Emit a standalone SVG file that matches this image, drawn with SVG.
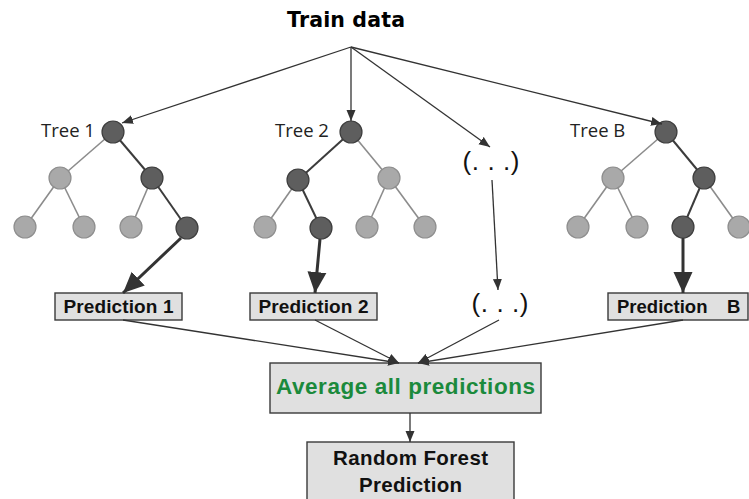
<svg xmlns="http://www.w3.org/2000/svg" width="749" height="499" viewBox="0 0 749 499">
<defs>
<marker id="a" markerUnits="userSpaceOnUse" markerWidth="12" markerHeight="10" refX="11" refY="5" orient="auto"><path d="M0,0.5 L11,5 L0,9.5 z" fill="#333"/></marker>
<marker id="A" markerUnits="userSpaceOnUse" markerWidth="22" markerHeight="20" refX="21" refY="10" orient="auto"><path d="M0,0.5 L21,10 L0,19.5 z" fill="#333"/></marker>
</defs>
<style>
.thin{stroke:#333;stroke-width:1.3;fill:none}
.thick{stroke:#333;stroke-width:3;fill:none}
.de{stroke:#3c3c3c;stroke-width:2}
.le{stroke:#8c8c8c;stroke-width:1.6}
.dn{fill:#5e5e5e;stroke:#3e3e3e;stroke-width:1.2}
.ln{fill:#a9a9a9;stroke:#8e8e8e;stroke-width:1.2}
.box{fill:#e0e0e0;stroke:#3a3a3a;stroke-width:1.4}
.lbl{font-family:"Open Sans","Liberation Sans",sans-serif;font-size:18.5px;fill:#222}
.b{font-family:"Liberation Sans",Arial,sans-serif;font-weight:bold;fill:#111}
.dots{font-family:"Liberation Sans",Arial,sans-serif;font-size:26px;fill:#111}
</style>
<g id="train-data"><text x="346" y="27" font-family="'DejaVu Sans','Liberation Sans',sans-serif" font-weight="bold" font-size="20.5" fill="#000" text-anchor="middle" textLength="118">Train data</text></g>

<g id="tree1">
<text x="41" y="137" class="lbl">Tree 1</text>
<line x1="113" y1="132" x2="60" y2="178" class="le"/>
<line x1="113" y1="132" x2="152" y2="178" class="de"/>
<line x1="60" y1="178" x2="25" y2="227" class="le"/>
<line x1="60" y1="178" x2="84" y2="227" class="le"/>
<line x1="152" y1="178" x2="131" y2="227" class="le"/>
<line x1="152" y1="178" x2="187" y2="228" class="de"/>
<circle cx="113" cy="132" r="11" class="dn"/>
<circle cx="60" cy="178" r="11" class="ln"/>
<circle cx="152" cy="178" r="11" class="dn"/>
<circle cx="25" cy="227" r="11" class="ln"/>
<circle cx="84" cy="227" r="11" class="ln"/>
<circle cx="131" cy="227" r="11" class="ln"/>
<circle cx="187" cy="228" r="11" class="dn"/>
</g>

<g id="tree2">
<text x="275" y="137" class="lbl">Tree 2</text>
<line x1="351" y1="132" x2="298" y2="180" class="de"/>
<line x1="351" y1="132" x2="389" y2="178" class="le"/>
<line x1="298" y1="180" x2="265" y2="227" class="le"/>
<line x1="298" y1="180" x2="321" y2="228" class="de"/>
<line x1="389" y1="178" x2="367" y2="227" class="le"/>
<line x1="389" y1="178" x2="425" y2="227" class="le"/>
<circle cx="351" cy="132" r="11" class="dn"/>
<circle cx="298" cy="180" r="11" class="dn"/>
<circle cx="389" cy="178" r="11" class="ln"/>
<circle cx="265" cy="227" r="11" class="ln"/>
<circle cx="321" cy="228" r="11" class="dn"/>
<circle cx="367" cy="227" r="11" class="ln"/>
<circle cx="425" cy="227" r="11" class="ln"/>
</g>

<g id="dots-tree"><text x="491" y="170" class="dots" text-anchor="middle" textLength="57">(. . .)</text></g>

<g id="treeB">
<text x="570" y="137" class="lbl">Tree B</text>
<line x1="666" y1="132" x2="613" y2="178" class="le"/>
<line x1="666" y1="132" x2="704" y2="178" class="de"/>
<line x1="613" y1="178" x2="578" y2="227" class="le"/>
<line x1="613" y1="178" x2="637" y2="227" class="le"/>
<line x1="704" y1="178" x2="683" y2="227" class="de"/>
<line x1="704" y1="178" x2="739" y2="227" class="le"/>
<circle cx="666" cy="132" r="11" class="dn"/>
<circle cx="613" cy="178" r="11" class="ln"/>
<circle cx="704" cy="178" r="11" class="dn"/>
<circle cx="578" cy="227" r="11" class="ln"/>
<circle cx="637" cy="227" r="11" class="ln"/>
<circle cx="683" cy="227" r="11" class="dn"/>
<circle cx="739" cy="227" r="11" class="ln"/>
</g>

<g id="pred1"><rect x="55" y="293" width="127" height="27" class="box"/><text x="118.5" y="313" class="b" font-size="19" text-anchor="middle" textLength="110">Prediction 1</text></g>
<g id="pred2"><rect x="250" y="293" width="127" height="27" class="box"/><text x="313.5" y="313" class="b" font-size="19" text-anchor="middle" textLength="110">Prediction 2</text></g>
<g id="dots-pred"><text x="500" y="312" class="dots" text-anchor="middle" textLength="57">(. . .)</text></g>
<g id="predB"><rect x="608" y="293" width="140" height="27" class="box"/><text x="617" y="313" class="b" font-size="18.5">Prediction<tspan x="727">B</tspan></text></g>

<g id="average"><rect x="270" y="363" width="271" height="50" class="box"/><text x="405.5" y="394" class="b" font-size="22.5" style="fill:#1b8a3c" text-anchor="middle" textLength="259">Average all predictions</text></g>

<g id="random-forest"><rect x="307" y="442" width="207" height="70" class="box"/>
<text x="410.5" y="465" class="b" font-size="20.5" text-anchor="middle" textLength="155">Random Forest</text>
<text x="410.5" y="492" class="b" font-size="20.5" text-anchor="middle" textLength="103">Prediction</text></g>

<g id="connectors">
<line x1="351" y1="47" x2="122" y2="123" class="thin" marker-end="url(#a)"/>
<line x1="351" y1="47" x2="351" y2="121" class="thin" marker-end="url(#a)"/>
<line x1="351" y1="47" x2="490" y2="147" class="thin" marker-end="url(#a)"/>
<line x1="351" y1="47" x2="662" y2="124" class="thin" marker-end="url(#a)"/>
<line x1="181" y1="238" x2="123" y2="293" class="thick" marker-end="url(#A)"/>
<line x1="320" y1="239" x2="315" y2="293" class="thick" marker-end="url(#A)"/>
<line x1="683" y1="238" x2="683" y2="293" class="thick" marker-end="url(#A)"/>
<line x1="492" y1="180" x2="498" y2="290" class="thin" marker-end="url(#a)"/>
<line x1="123" y1="320" x2="399" y2="363" class="thin" marker-end="url(#a)"/>
<line x1="315" y1="320" x2="399" y2="363" class="thin" marker-end="url(#a)"/>
<line x1="499" y1="320" x2="418" y2="363" class="thin" marker-end="url(#a)"/>
<line x1="683" y1="320" x2="418" y2="363" class="thin" marker-end="url(#a)"/>
<line x1="410" y1="413" x2="410" y2="442" class="thin" marker-end="url(#a)"/>
</g>
</svg>
